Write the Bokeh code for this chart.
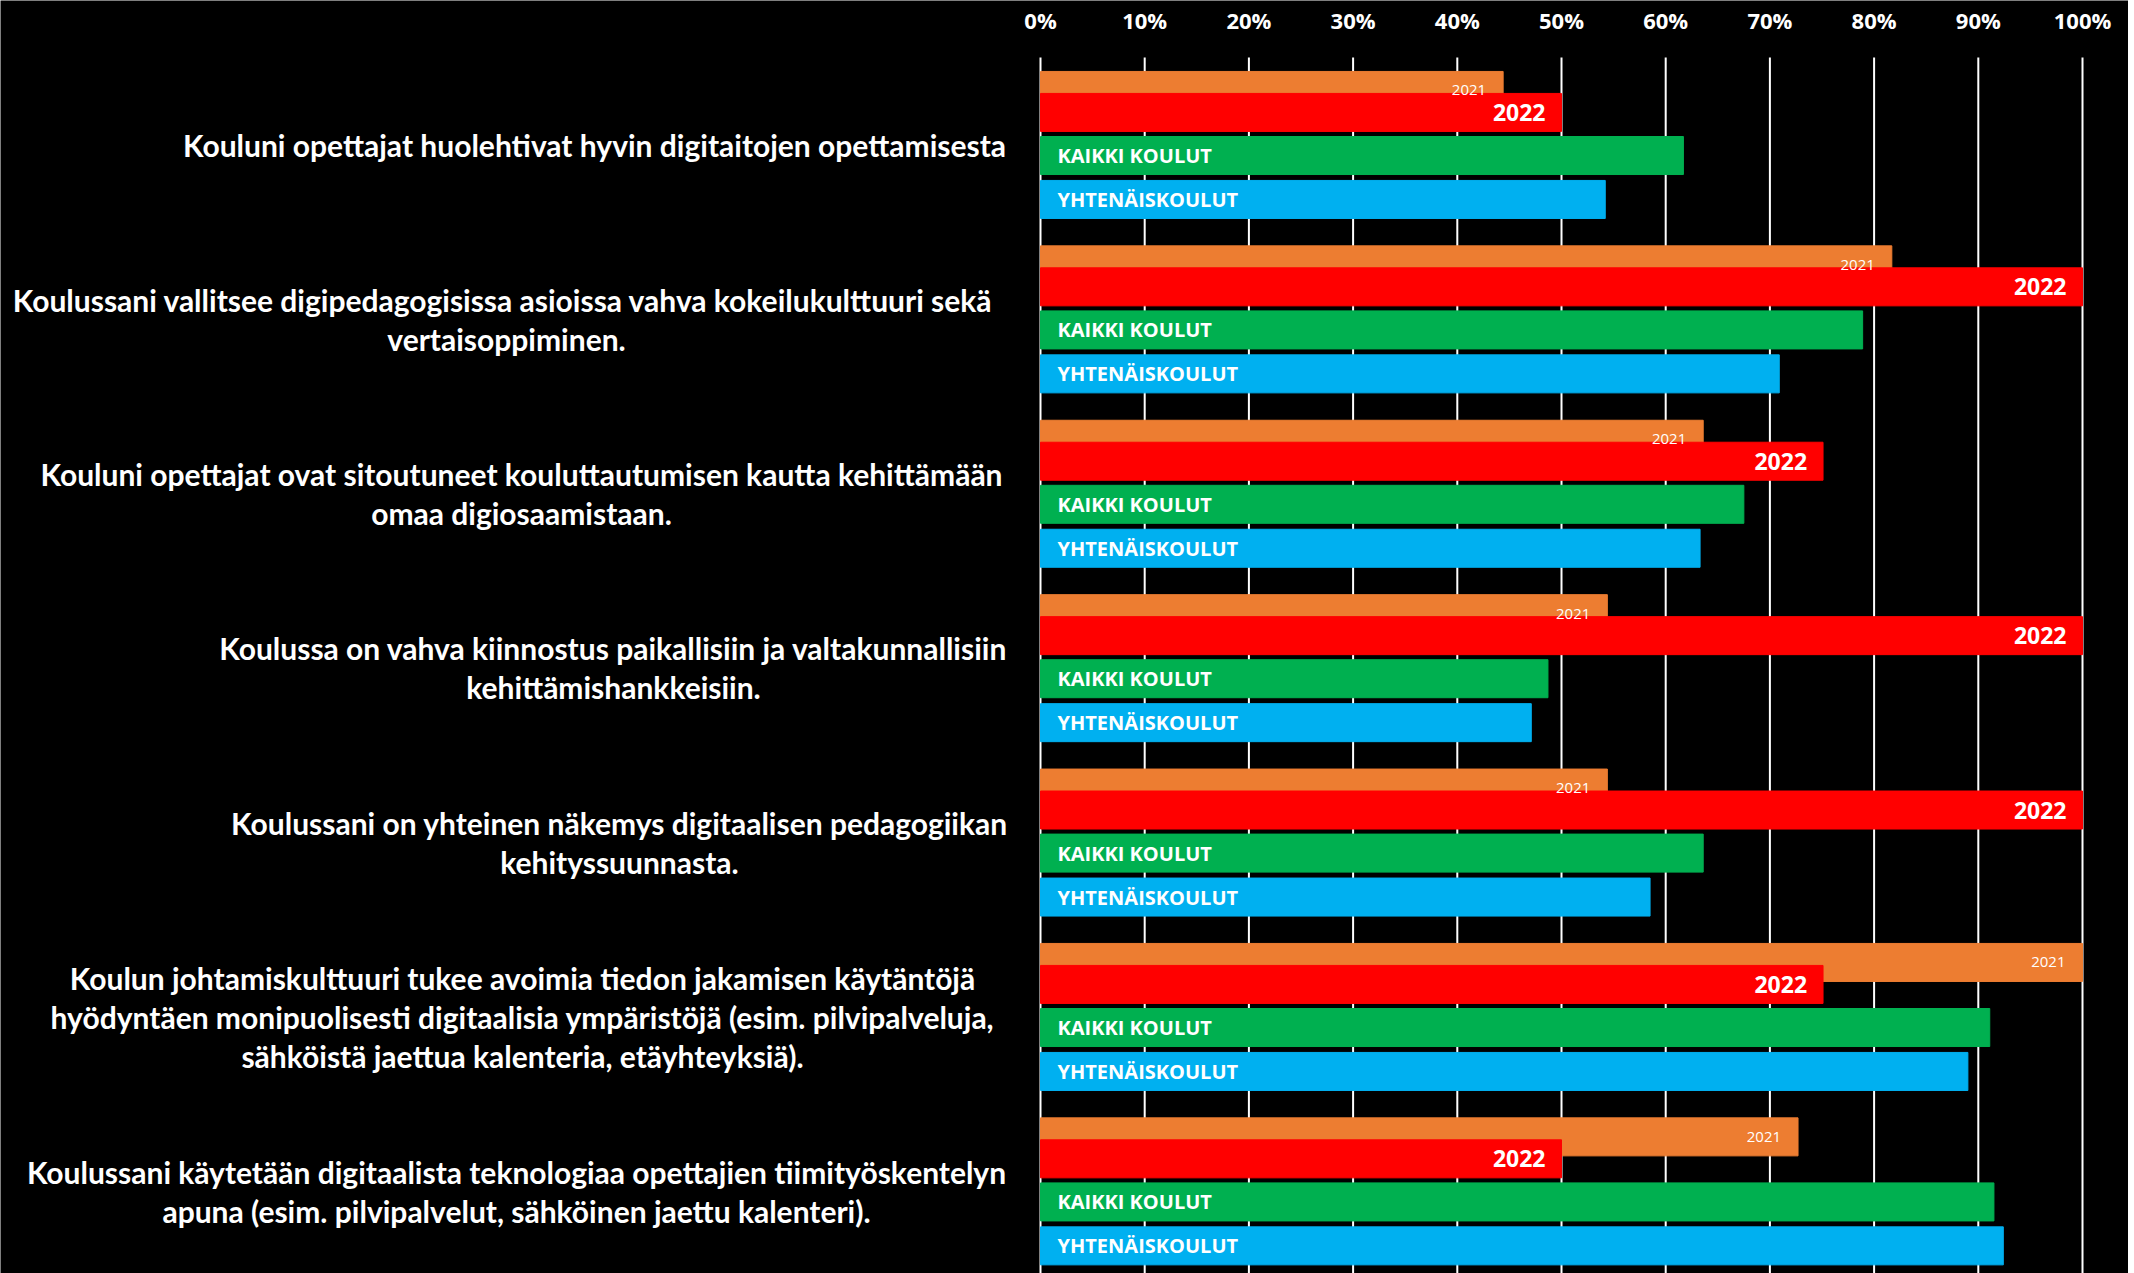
from bokeh.plotting import figure
from bokeh.models import Range1d
from bokeh.core.properties import value
from bokeh.embed import file_html
from bokeh.resources import INLINE

# ---------------- data ----------------
categories = [
    "Kouluni opettajat huolehtivat hyvin digitaitojen opettamisesta",
    "Koulussani vallitsee digipedagogisissa asioissa vahva  kokeilukulttuuri sekä\nvertaisoppiminen.",
    "Kouluni opettajat ovat sitoutuneet kouluttautumisen kautta kehittämään\nomaa digiosaamistaan.",
    "Koulussa on vahva kiinnostus paikallisiin ja valtakunnallisiin\nkehittämishankkeisiin.",
    "Koulussani on yhteinen näkemys digitaalisen pedagogiikan\nkehityssuunnasta.",
    "Koulun johtamiskulttuuri tukee avoimia tiedon jakamisen käytäntöjä\nhyödyntäen monipuolisesti digitaalisia ympäristöjä (esim. pilvipalveluja,\nsähköistä jaettua kalenteria, etäyhteyksiä).",
    "Koulussani käytetään digitaalista teknologiaa opettajien tiimityöskentelyn\napuna (esim. pilvipalvelut, sähköinen jaettu kalenteri).",
]
v2021 = [44.4, 81.7, 63.6, 54.4, 54.4, 100.0, 72.7]
v2022 = [50.0, 100.0, 75.1, 100.0, 100.0, 75.1, 50.0]
kaikki_koulut = [61.7, 78.9, 67.5, 48.7, 63.6, 91.1, 91.5]
yhtenaiskoulut = [54.2, 70.9, 63.3, 47.1, 58.5, 89.0, 92.4]
series_names = ["2021", "2022", "KAIKKI KOULUT", "YHTENÄISKOULUT"]
tick_values = [0, 10, 20, 30, 40, 50, 60, 70, 80, 90, 100]
tick_labels = ["0%", "10%", "20%", "30%", "40%", "50%", "60%", "70%", "80%", "90%", "100%"]

# ---------------- layout / style ----------------
W, H = 2128, 1273
TOP_PX = 57             # canvas y where the bar area (gridlines) starts
TICK_LABEL_PX = 19.5    # canvas y of tick label centres
ZERO_PX = 1040          # canvas x of the 0 % line
PX_PER_PCT = 10.42
GROUP_PX = 174.4

OFF = [0.189, 0.315, 0.562, 0.814]   # bar centre offsets inside a group
BAR_H = 0.218
COLORS = ["#ED7D31", "#FF0000", "#00B050", "#00B0F0"]
LABEL_CX = [594, 506, 521, 613, 619, 522, 516]  # px centres of label blocks

n = len(categories)
ys = [[g + o for g in range(n)] for o in OFF]

x0 = -ZERO_PX / PX_PER_PCT
x1 = (W - ZERO_PX) / PX_PER_PCT
y_top = -TOP_PX / GROUP_PX
y_bot = (H - TOP_PX) / GROUP_PX
y_ticklab = (TICK_LABEL_PX - TOP_PX) / GROUP_PX

p = figure(width=W, height=H, output_backend="svg", toolbar_location=None,
           x_range=Range1d(x0, x1), y_range=Range1d(y_bot, y_top),
           x_axis_location=None, y_axis_location=None,
           min_border_left=0, min_border_right=0,
           min_border_top=0, min_border_bottom=0)
p.background_fill_color = "black"
p.border_fill_color = "black"
p.outline_line_color = None
p.grid.visible = False

# vertical gridlines
p.segment(x0=tick_values, x1=tick_values, y0=[0] * len(tick_values),
          y1=[y_bot] * len(tick_values), line_color="white", line_width=2)
# tick labels on top
p.text(x=tick_values, y=[y_ticklab] * len(tick_values), text=tick_labels,
       text_align="center", text_baseline="middle", text_color="white",
       text_font=value("Open Sans"), text_font_size="22px", text_font_style="bold")

vals = [v2021, v2022, kaikki_koulut, yhtenaiskoulut]
for k in range(4):
    p.hbar(y=ys[k], left=0, right=vals[k], height=BAR_H,
           fill_color=COLORS[k], line_color=COLORS[k], line_width=1)

font = value("Open Sans")
p.text(x=v2021, y=ys[0], text=[series_names[0]] * n, x_offset=-17,
       text_align="right", text_baseline="middle", text_color="white",
       text_font=font, text_font_size="15px")
p.text(x=v2022, y=ys[1], text=[series_names[1]] * n, x_offset=-16,
       text_align="right", text_baseline="middle", text_color="white",
       text_font=font, text_font_size="23px", text_font_style="bold")
p.text(x=[0] * n, y=ys[2], text=[series_names[2]] * n, x_offset=17,
       text_align="left", text_baseline="middle", text_color="white",
       text_font=font, text_font_size="20px", text_font_style="bold")
p.text(x=[0] * n, y=ys[3], text=[series_names[3]] * n, x_offset=17,
       text_align="left", text_baseline="middle", text_color="white",
       text_font=font, text_font_size="20px", text_font_style="bold")

label_x = [(cx - ZERO_PX) / PX_PER_PCT for cx in LABEL_CX]
p.text(x=label_x, y=[g + 0.5 for g in range(n)], text=categories,
       text_align="center", text_baseline="middle", text_color="white",
       text_font=value("Lato"), text_font_size="30px",
       text_font_style="bold", text_line_height=1.08)

open("out.html", "w").write(file_html(p, INLINE))
